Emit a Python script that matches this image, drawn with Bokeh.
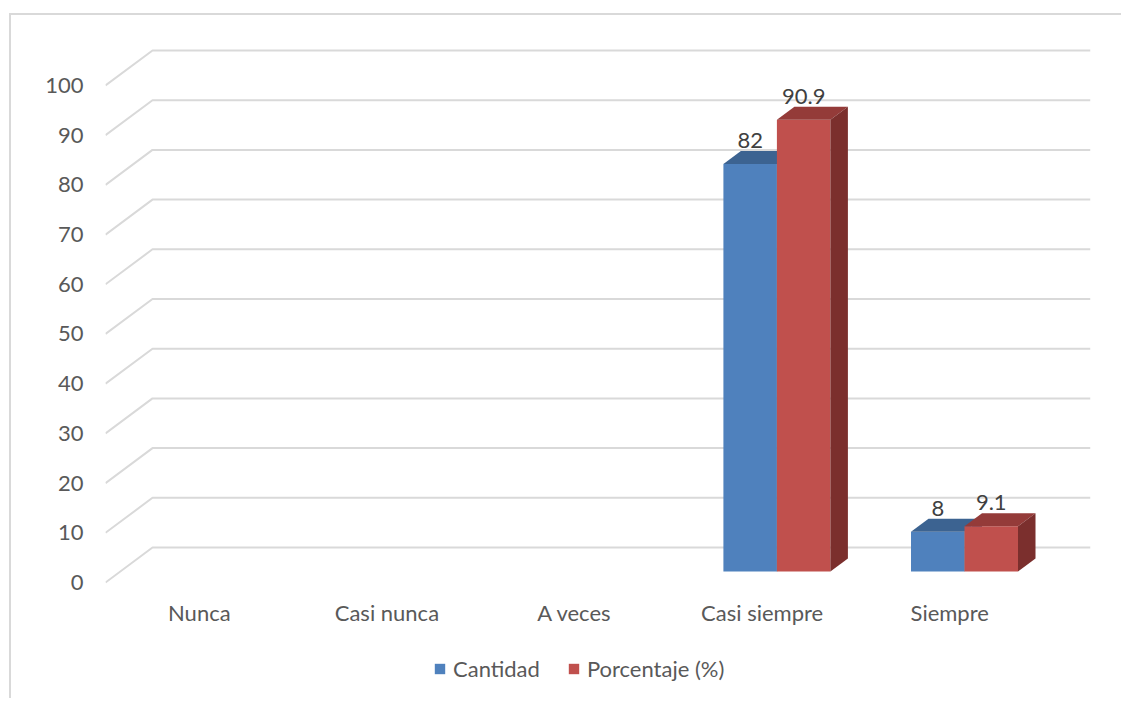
from bokeh.plotting import figure
from bokeh.models import (FixedTicker, Legend, LegendItem, Range1d)
from bokeh.embed import file_html
from bokeh.resources import INLINE
from bokeh.core.properties import value

# ---------------- data ----------------
categories = ["Nunca", "Casi nunca", "A veces", "Casi siempre", "Siempre"]
cantidad = [0, 0, 0, 82, 8]
porcentaje = [0, 0, 0, 90.9, 9.1]
y_ticks = [0, 10, 20, 30, 40, 50, 60, 70, 80, 90, 100]
series_names = ["Cantidad", "Porcentaje (%)"]

# ---------------- style / geometry ----------------
FONT = "Lato"
FS = "22px"
GRID_C = "#d9d9d9"
LABEL_C = "#595959"
front_cols = ["#4f81bd", "#c0504d"]
top_cols = ["#3c6391", "#943b39"]
side_cols = ["#355a85", "#7b2f2d"]

XPX = 187.6          # px per category
YPX = 4.97           # px per value unit
wall_dx = 47 / XPX   # floor depth (front plane -> back wall)
wall_dy = 35 / YPX
bar_dx = 14.8 / XPX  # bar front-face position inside the floor
bar_dy = 11 / YPX
bar_w = 53.5 / XPX
dep_dx = 17.5 / XPX  # bar depth
dep_dy = 13 / YPX
lab_dy = 23.5 / YPX
cat_dy = -30 / YPX   # category label baseline below the front floor edge

x_lo, x_hi = -0.5, 4.7505
y_lo, y_hi = -23.74, 109.05

p = figure(width=1112, height=685, output_backend="svg", toolbar_location=None,
           x_range=Range1d(x_lo, x_hi), y_range=Range1d(y_lo, y_hi),
           x_axis_location=None,
           min_border_left=94, min_border_right=33, min_border_top=25,
           min_border_bottom=0)
p.styles = {"border-left": "2px solid #d9d9d9", "border-top": "2px solid #d9d9d9",
            "margin-left": "9px", "margin-top": "13px"}
p.outline_line_color = None
p.xgrid.visible = False
p.ygrid.visible = False
p.background_fill_color = "white"
p.border_fill_color = "white"

# perspective gridlines
gx, gy = [], []
for v in y_ticks:
    gx.append([x_lo, x_lo + wall_dx, x_hi])
    gy.append([v, v + wall_dy, v + wall_dy])
p.multi_line(gx, gy, line_color=GRID_C, line_width=2)

# 3D bars
legend_items = []
for s, vals in enumerate([cantidad, porcentaje]):
    L, R, B, T = [], [], [], []
    txs, tys, sxs, sys_ = [], [], [], []
    lx, ly, lt = [], [], []
    for i, v in enumerate(vals):
        if v == 0:
            continue
        c = i + bar_dx
        left = c - bar_w if s == 0 else c
        right = left + bar_w
        bottom = bar_dy
        top = bar_dy + v
        L.append(left); R.append(right); B.append(bottom); T.append(top)
        txs.append([left, right, right + dep_dx, left + dep_dx])
        tys.append([top, top, top + dep_dy, top + dep_dy])
        sxs.append([right, right + dep_dx, right + dep_dx, right])
        sys_.append([bottom, bottom + dep_dy, top + dep_dy, top])
        lx.append((left + right) / 2)
        ly.append(top + lab_dy)
        lt.append(f"{v:g}")
    r = p.quad(left=L, right=R, bottom=B, top=T, fill_color=front_cols[s],
               line_color=None)
    p.patches(txs, tys, fill_color=top_cols[s], line_color=None)
    p.patches(sxs, sys_, fill_color=side_cols[s], line_color=None)
    p.text(lx, ly, text=lt, text_align="center", text_baseline="alphabetic",
           text_font=value(FONT), text_font_size=FS, text_color="#404040")
    legend_items.append(LegendItem(label=series_names[s], renderers=[r]))

# category labels (x axis)
p.text(list(range(len(categories))), [cat_dy] * len(categories), text=categories,
       text_align="center", text_baseline="alphabetic",
       text_font=value(FONT), text_font_size=FS, text_color=LABEL_C)

# y axis
p.yaxis.ticker = FixedTicker(ticks=y_ticks)
p.yaxis.axis_line_color = None
p.yaxis.major_tick_line_color = None
p.yaxis.minor_tick_line_color = None
p.yaxis.major_tick_out = 0
p.yaxis.major_label_standoff = 22
p.yaxis.major_label_text_font = FONT
p.yaxis.major_label_text_font_size = FS
p.yaxis.major_label_text_color = LABEL_C

legend = Legend(items=legend_items, orientation="horizontal", location=(328, 18),
                glyph_width=13, glyph_height=13, label_standoff=7, spacing=27,
                label_text_font=FONT, label_text_font_size=FS,
                label_text_color=LABEL_C, border_line_color=None,
                background_fill_alpha=0, padding=0, margin=0)
p.add_layout(legend, "center")

open("out.html", "w").write(file_html(p, INLINE))
